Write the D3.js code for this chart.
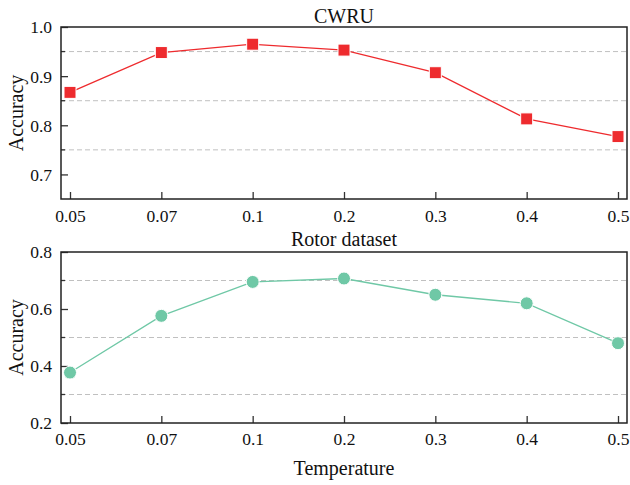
<!DOCTYPE html>
<html>
<head>
<meta charset="utf-8">
<script src="https://cdn.jsdelivr.net/npm/d3@7"></script>
<style>
  html, body { margin: 0; padding: 0; background: #fff; }
  svg { display: block; font-family: "Liberation Serif", "Times New Roman", serif; }
</style>
</head>
<body>
<svg id="chart" width="630" height="485"></svg>
<script>
const temperatures = ["0.05", "0.07", "0.1", "0.2", "0.3", "0.4", "0.5"];
const cwruAccuracy = [0.867, 0.948, 0.965, 0.953, 0.907, 0.813, 0.777];
const rotorAccuracy = [0.377, 0.576, 0.695, 0.707, 0.650, 0.620, 0.480];
const cwruTicks = [0.7, 0.8, 0.9, 1.0];
const cwruGrid = [0.75, 0.85, 0.95];
const rotorTicks = [0.2, 0.4, 0.6, 0.8];
const rotorGrid = [0.3, 0.5, 0.7];

const svg = d3.select("#chart");
const left = 61, right = 627;

const x = d3.scalePoint().domain(temperatures).range([70, 618]);

const panels = [
  { title: "CWRU", values: cwruAccuracy, domain: [0.65, 1.0], ticks: cwruTicks, grid: cwruGrid,
    top: 27, bottom: 199, color: "#EE2B2E", shape: "square", titleY: 22.5, tickLabelY: 221.5 },
  { title: "Rotor dataset", values: rotorAccuracy, domain: [0.2, 0.8], ticks: rotorTicks, grid: rotorGrid,
    top: 252, bottom: 423, color: "#6FC8A6", shape: "circle", titleY: 245.5, tickLabelY: 445 }
];

panels.forEach(p => {
  const y = d3.scaleLinear().domain(p.domain).range([p.bottom, p.top]);
  const g = svg.append("g");

  g.selectAll(".grid").data(p.grid).join("line")
    .attr("x1", left).attr("x2", right)
    .attr("y1", d => y(d)).attr("y2", d => y(d))
    .attr("stroke", "#c0c0c0").attr("stroke-width", 1)
    .attr("stroke-dasharray", "5,3");

  const yAxis = d3.axisLeft(y).tickValues(p.ticks).tickSize(-7).tickPadding(9)
    .tickFormat(d3.format(".1f"));
  const ya = g.append("g").attr("transform", `translate(${left},0)`).call(yAxis);
  ya.attr("font-family", null);
  ya.select(".domain").remove();
  ya.selectAll(".tick line").attr("stroke", "#333").attr("stroke-width", 1.3);
  ya.selectAll(".tick text").attr("font-size", 17.5).attr("fill", "#111")
    .attr("x", -9).attr("dy", "0.34em");
  g.selectAll(".minor").data(p.grid).join("line")
    .attr("x1", left).attr("x2", left + 4)
    .attr("y1", d => y(d)).attr("y2", d => y(d))
    .attr("stroke", "#333").attr("stroke-width", 1.3);

  const xAxis = d3.axisBottom(x).tickSize(-7).tickPadding(0);
  const xa = g.append("g").attr("transform", `translate(0,${p.bottom})`).call(xAxis);
  xa.attr("font-family", null);
  xa.select(".domain").remove();
  xa.selectAll(".tick line").attr("stroke", "#333").attr("stroke-width", 1.3);
  xa.selectAll(".tick text").attr("font-size", 17.5).attr("fill", "#111")
    .attr("y", p.tickLabelY - p.bottom).attr("dy", 0);

  g.append("rect").attr("x", left).attr("y", p.top)
    .attr("width", right - left).attr("height", p.bottom - p.top)
    .attr("fill", "none").attr("stroke", "#222").attr("stroke-width", 1.5);

  const line = d3.line().x((d, i) => x(temperatures[i])).y(d => y(d));
  g.append("path").datum(p.values).attr("d", line)
    .attr("fill", "none").attr("stroke", p.color).attr("stroke-width", 1.3);

  if (p.shape === "square") {
    const s = 12;
    g.selectAll(".mk").data(p.values).join("rect")
      .attr("x", (d, i) => x(temperatures[i]) - s / 2)
      .attr("y", d => y(d) - s / 2)
      .attr("width", s).attr("height", s)
      .attr("fill", p.color).attr("stroke", "#fff").attr("stroke-width", 1);
  } else {
    g.selectAll(".mk").data(p.values).join("circle")
      .attr("cx", (d, i) => x(temperatures[i]))
      .attr("cy", d => y(d))
      .attr("r", 6.5)
      .attr("fill", p.color).attr("stroke", "#fff").attr("stroke-width", 1);
  }

  svg.append("text").attr("x", (left + right) / 2 + 0).attr("y", p.titleY)
    .attr("text-anchor", "middle").attr("font-size", 20).attr("fill", "#111")
    .text(p.title);

  svg.append("text")
    .attr("transform", `translate(23,${(p.top + p.bottom) / 2}) rotate(-90)`)
    .attr("text-anchor", "middle").attr("font-size", 20).attr("fill", "#111")
    .text("Accuracy");
});

svg.append("text").attr("x", 344).attr("y", 475)
  .attr("text-anchor", "middle").attr("font-size", 20).attr("fill", "#111")
  .text("Temperature");
</script>
</body>
</html>
